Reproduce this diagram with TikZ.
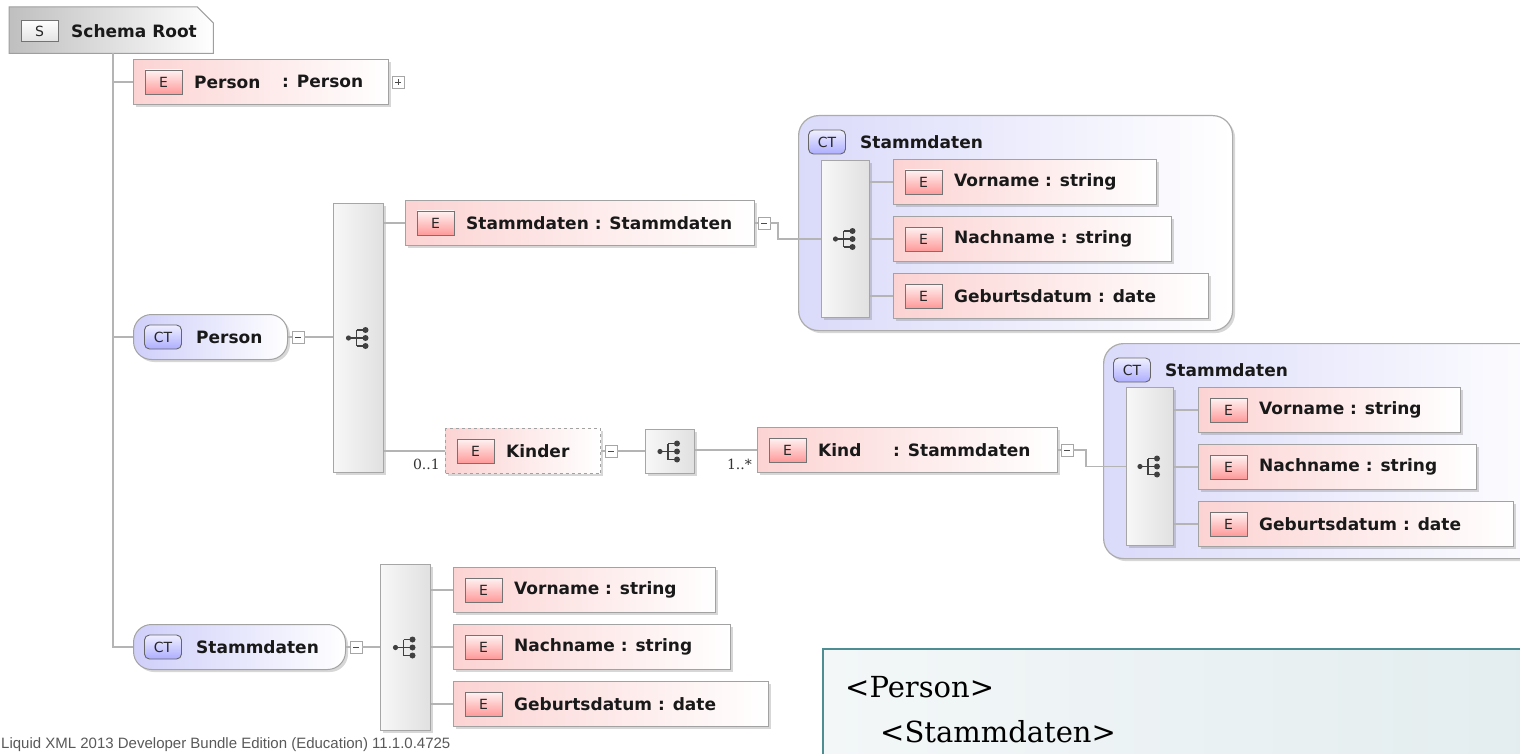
\documentclass[tikz,border=0pt]{standalone}
\usepackage{fontspec}
\usetikzlibrary{shadows,calc}
\newfontfamily\uifont{DejaVu Sans}
\newfontfamily\footfont{Liberation Sans}
\newfontfamily\xmlfont{DejaVu Serif}
\definecolor{elemL}{HTML}{FCD3D3}
\definecolor{ctL}{HTML}{CFCFFA}
\definecolor{grpL}{HTML}{DADAFA}
\definecolor{connC}{HTML}{B4B4B4}
\definecolor{bordC}{HTML}{A2A2A2}
\definecolor{tealC}{HTML}{4E8E92}
\definecolor{xmlL}{HTML}{F3F7F8}
\definecolor{xmlR}{HTML}{E2ECEE}
\tikzset{
 conn/.style={draw=connC, line width=1.3pt},
 shad/.style={drop shadow={shadow xshift=2.5pt,shadow yshift=-2.5pt,opacity=.22,fill=black!70}},
 elem/.style={rectangle, draw=bordC, line width=1pt, left color=elemL, right color=white, minimum height=45pt, anchor=north west, inner sep=0pt, shad},
 etag/.style={rectangle, draw=black!55, line width=0.9pt, top color=red!5, bottom color=red!40, minimum width=37pt, minimum height=24pt, inner sep=0pt, font=\uifont\fontsize{14}{14}\selectfont, text=black!85},
 etext/.style={anchor=west, inner sep=0pt, font=\uifont\bfseries\fontsize{17}{20}\selectfont, text=black!90},
 ctnode/.style={rectangle, rounded corners=18pt, draw=bordC, line width=1pt, left color=ctL, right color=white, minimum height=45pt, anchor=north west, inner sep=0pt, shad},
 cttag/.style={rectangle, rounded corners=5pt, draw=black!60, line width=0.9pt, top color=blue!6, bottom color=blue!32, minimum width=37pt, minimum height=24pt, inner sep=0pt, font=\uifont\fontsize{14}{14}\selectfont, text=black!85},
 grp/.style={rectangle, rounded corners=20pt, draw=gray!65, line width=1.2pt, left color=grpL, right color=white, anchor=north west, inner sep=0pt, shad},
 seqbox/.style={rectangle, draw=gray!70, line width=1pt, left color=gray!6, right color=gray!24, anchor=north west, inner sep=0pt, shad},
 stag/.style={rectangle, draw=black!55, line width=0.9pt, top color=white, bottom color=gray!22, minimum width=37pt, minimum height=21pt, inner sep=0pt, font=\uifont\fontsize{14}{14}\selectfont, text=black!85},
 mbox/.style={rectangle, draw=gray!70, fill=white, minimum size=12pt, inner sep=0pt, line width=0.8pt,
   path picture={\draw[gray!60!black, line width=.8pt] ([xshift=3pt]path picture bounding box.west) -- ([xshift=-3pt]path picture bounding box.east);}},
 pbox/.style={rectangle, draw=gray!70, fill=white, minimum size=12pt, inner sep=0pt, line width=0.8pt,
   path picture={\draw[gray!60!black, line width=.8pt] ([xshift=3pt]path picture bounding box.west) -- ([xshift=-3pt]path picture bounding box.east) ([yshift=3pt]path picture bounding box.south) -- ([yshift=-3pt]path picture bounding box.north);}},
 mult/.style={anchor=base east, inner sep=0pt, font=\xmlfont\fontsize{14}{14}\selectfont, text=black!80},
}
\newcommand{\xelem}[6][]{%
  \node[elem,minimum width=#5,#1] (#2) at (#3,#4) {};
  \node[etag] (#2-t) at ([xshift=30.5pt]#2.west) {E};
  \node[etext] (#2-l) at ([xshift=61pt]#2.west) {#6};
}
\newcommand{\xct}[5]{%
  \node[ctnode,minimum width=#5] (#1) at (#2,#3) {};
  \node[cttag] (#1-t) at ([xshift=30pt]#1.west) {CT};
  \node[etext] (#1-l) at ([xshift=63pt]#1.west) {#4};
}
\newcommand{\seqicon}[1]{%
 \begin{scope}[shift={(#1)}, line width=1.4pt]
  \fill[black!75] (-10,0) circle (2.6pt);
  \draw[black!75] (-10,0) -- (-2,0) (-2,-8) -- (-2,8) (-2,-8) -- (7,-8) (-2,8) -- (7,8) (-2,0) -- (7,0);
  \fill[black!75] (7,-8) circle (3pt) (7,0) circle (3pt) (7,8) circle (3pt);
 \end{scope}}
\begin{document}
\begin{tikzpicture}[x=1pt,y=-1pt]
\useasboundingbox (0,0) rectangle (1520,754);
\clip (0,0) rectangle (1520,754);
\fill[white] (0,0) rectangle (1520,754);

% schema root
\node[minimum width=204pt, minimum height=46pt, anchor=north west, inner sep=0pt] (root) at (9,7) {};
\shade[left color=gray!50, right color=white] (root.north west) -- ([xshift=-16pt]root.north east) -- ([yshift=-16pt]root.north east) -- (root.south east) -- (root.south west) -- cycle;
\draw[gray!75, line width=1pt] (root.north west) -- ([xshift=-16pt]root.north east) -- ([yshift=-16pt]root.north east) -- (root.south east) -- (root.south west) -- cycle;
\node[stag] (root-t) at (39.5,31) {S};
\node[etext] (root-l) at (71,31) {Schema Root};
\coordinate (trunk) at (113,53);

% Person element
\xelem{pe}{133}{59}{255pt}{Person}
\node[etext] (pe-ty) at (282,81.5) {: Person};
\node[pbox] (pp) at ([xshift=9pt]pe.east) {};

% CT Person
\xct{ctP}{133}{314}{Person}{154pt}
\node[mbox] (m1) at ([xshift=10pt]ctP.east) {};
\node[seqbox, minimum width=50pt, minimum height=269pt] (seq1) at (333,203) {};
\seqicon{seq1.center}

% Stammdaten element
\xelem{se}{405}{200}{349pt}{Stammdaten : Stammdaten}
\node[mbox] (m2) at ([xshift=9pt]se.east) {};

% group 1
\node[grp, minimum width=434pt, minimum height=215pt] (g1) at (798,115) {};
\node[cttag] (g1-t) at (827,142) {CT};
\node[etext] (g1-l) at (860,142) {Stammdaten};
\node[seqbox, minimum width=48pt, minimum height=157pt] (seq2) at (821,160) {};
\seqicon{seq2.center}
\xelem{g1v}{893}{159}{263pt}{Vorname : string}
\xelem{g1n}{893}{216}{278pt}{Nachname : string}
\xelem{g1g}{893}{273}{315pt}{Geburtsdatum : date}

% Kinder chain
\xelem[dashed]{ki}{445}{428}{155pt}{Kinder}
\node[mbox] (m3) at ([xshift=10pt]ki.east) {};
\node[seqbox, minimum width=49pt, minimum height=44pt] (seq3) at (645,429) {};
\seqicon{seq3.center}
\xelem{kd}{757}{427}{300pt}{Kind}
\node[etext] (kd-ty) at (893,450) {: Stammdaten};
\node[mbox] (m4) at ([xshift=9pt]kd.east) {};
\node[mult] (mul1) at (440,469) {0..1};
\node[mult] (mul2) at (752,469) {1..*};

% group 2
\node[grp, minimum width=460pt, minimum height=215pt] (g2) at (1103,343) {};
\node[cttag] (g2-t) at (1132,370) {CT};
\node[etext] (g2-l) at (1165,370) {Stammdaten};
\node[seqbox, minimum width=47pt, minimum height=158pt] (seq5) at (1126,387) {};
\seqicon{seq5.center}
\xelem{g2v}{1198}{387}{262pt}{Vorname : string}
\xelem{g2n}{1198}{444}{278pt}{Nachname : string}
\xelem{g2g}{1198}{501}{315pt}{Geburtsdatum : date}

% CT Stammdaten (global)
\xct{ctS}{133}{624}{Stammdaten}{212pt}
\node[mbox] (m5) at ([xshift=10pt]ctS.east) {};
\node[seqbox, minimum width=50pt, minimum height=166pt] (seq4) at (380,564) {};
\seqicon{seq4.center}
\xelem{bv}{453}{567}{262pt}{Vorname : string}
\xelem{bn}{453}{624}{277pt}{Nachname : string}
\xelem{bg}{453}{681}{315pt}{Geburtsdatum : date}

% connectors
\coordinate (e1) at (778,0);
\coordinate (e2) at (1086,0);
\draw[conn] (trunk) -- (trunk |- ctS.west) -- (ctS.west);
\draw[conn] (trunk |- pe.west) -- (pe.west);
\draw[conn] (trunk |- ctP.west) -- (ctP.west);
\draw[conn] (ctP.east) -- (m1.west);
\draw[conn] (m1.east) -- (m1.east -| seq1.west);
\draw[conn] (seq1.east |- se.west) -- (se.west);
\draw[conn] (se.east) -- (m2.west);
\draw[conn] (m2.east) -- (m2.east -| e1) |- (seq2.west);
\draw[conn] (seq2.east |- g1v.west) -- (g1v.west);
\draw[conn] (seq2.east |- g1n.west) -- (g1n.west);
\draw[conn] (seq2.east |- g1g.west) -- (g1g.west);
\draw[conn] (seq1.east |- ki.west) -- (ki.west);
\draw[conn] (ki.east) -- (m3.west);
\draw[conn] (m3.east) -- (m3.east -| seq3.west);
\draw[conn] (seq3.east |- kd.west) -- (kd.west);
\draw[conn] (kd.east) -- (m4.west);
\draw[conn] (m4.east) -- (m4.east -| e2) |- (seq5.west);
\draw[conn] (seq5.east |- g2v.west) -- (g2v.west);
\draw[conn] (seq5.east |- g2n.west) -- (g2n.west);
\draw[conn] (seq5.east |- g2g.west) -- (g2g.west);
\draw[conn] (ctS.east) -- (m5.west);
\draw[conn] (m5.east) -- (m5.east -| seq4.west);
\draw[conn] (seq4.east |- bv.west) -- (bv.west);
\draw[conn] (seq4.east |- bn.west) -- (bn.west);
\draw[conn] (seq4.east |- bg.west) -- (bg.west);

% footer
\node[anchor=base west, inner sep=0pt, font=\footfont\fontsize{15}{15}\selectfont, text=black!65] (foot) at (1,748) {Liquid XML 2013 Developer Bundle Edition (Education) 11.1.0.4725};

% XML box
\node[draw=tealC, line width=2pt, left color=xmlL, right color=xmlR, anchor=north west, minimum width=760pt, minimum height=200pt, inner sep=0pt] (xmlbox) at (822,648) {};
\node[anchor=base west, inner sep=0pt, font=\xmlfont\fontsize{29}{30}\selectfont] (x1) at (845,697) {<Person>};
\node[anchor=base west, inner sep=0pt, font=\xmlfont\fontsize{29}{30}\selectfont] (x2) at (880,742) {<Stammdaten>};
\end{tikzpicture}
\end{document}
